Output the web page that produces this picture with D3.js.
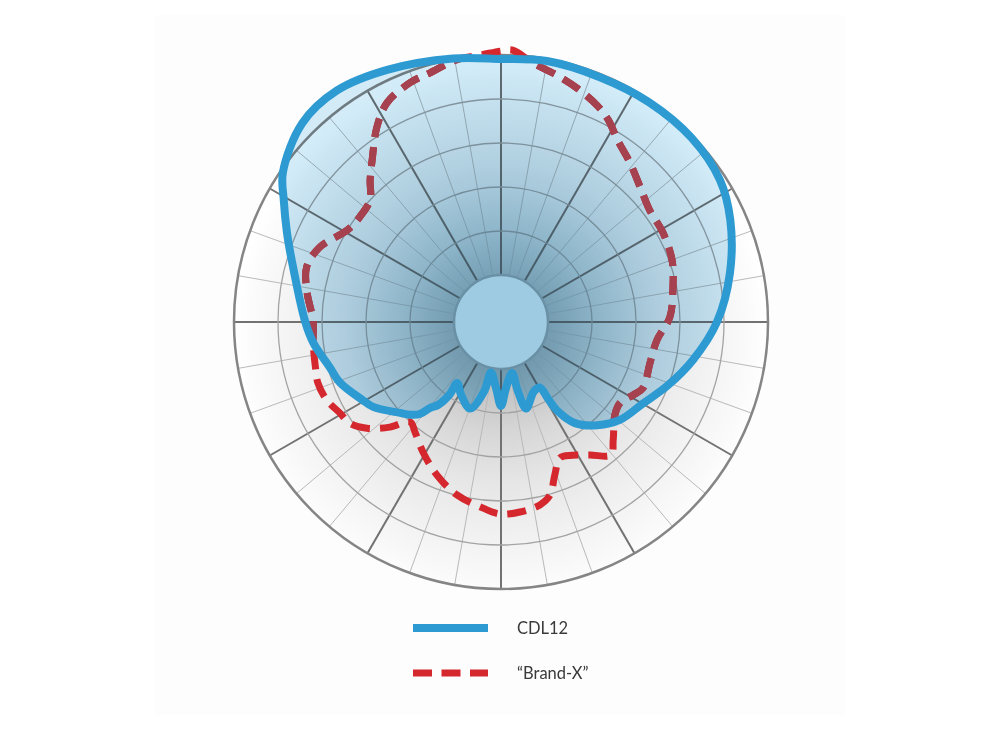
<!DOCTYPE html>
<html><head><meta charset="utf-8">
<script src="https://cdn.jsdelivr.net/npm/d3@7"></script>
<style>html,body{margin:0;padding:0;background:#fff}svg{display:block}</style>
</head><body>
<svg id="chart" width="1000" height="730"></svg>
<script>
// ---- data (angle in degrees clockwise from front/top, level in dB) ----
const seriesNames = ["CDL12", "\u201CBrand-X\u201D"];
const cdlAngles = [0,10,22,34,46,57,66,78,90,101,111,120,129.5,137,143.8,147.5,148.5,149.5,154.8,163.8,166.3,167.8,175.7,180,184.3,191.3,193.7,199.6,208.7,215.8,215.3,217.2,219.5,221.4,224.4,228,236.4,240.5,249.3,255.3,263.6,270,284.8,292.6,299.4,304.4,315,324.7,335.7,349.7];
const cdlLevels = [-0.45,-0.23,-0.34,-0.23,-0.23,-0.68,-1.82,-3.75,-5.8,-8.07,-10.1,-11.76,-12.84,-14.3,-16.1,-18.3,-20.1,-21.7,-21.6,-20.1,-22.2,-24.4,-22.8,-20.8,-22.8,-24.5,-22.2,-19.9,-20.9,-21.8,-20.3,-18.5,-17.7,-16.4,-15.6,-14.9,-12.9,-12.3,-10.8,-10.2,-8.9,-8.1,-5.9,-4.0,-2.0,-0.3,1.6,1.9,1.1,0.1];
const brandAngles = [0,2.5,7,12.8,18,23.9,27.9,32.7,39,45.8,53,61,70,78.5,88.3,96.6,105.4,114.9,118.9,124.2,129.2,136.5,140.4,146.2,151.9,156.5,160.6,164.2,168,174.3,180.3,185.5,194.3,202.7,210.8,217.8,222.3,226.6,231.6,236.2,240.5,245.9,251.6,256.4,263.6,270.6,278.5,285.8,292.5,300.9,306.7,313,317.3,321.5,327.5,332.5,339.2,344,350.5,356];
const brandLevels = [0.45,0.57,-0.68,-1.59,-2.39,-3.41,-4.32,-5.8,-7.05,-8.3,-9.2,-9.32,-9.66,-10.4,-11.14,-12.5,-12.78,-12.55,-13.18,-13.98,-13.64,-11.82,-10.73,-12.16,-13.18,-13.52,-11.93,-9.89,-9.09,-8.64,-8.52,-9.09,-10.06,-11.48,-13.07,-14.43,-15.0,-12.95,-10.91,-9.66,-9.32,-8.64,-8.41,-8.64,-8.86,-8.98,-8.07,-7.39,-8.07,-10.0,-10.34,-10.0,-8.41,-6.82,-4.09,-2.27,-1.25,-0.91,-0.11,0.11];
const ringLevels = [-25,-20,-15,-10,-5,0];
const spokeAngles = d3.range(0, 360, 10);

// ---- layout ----
const cx = 501, cy = 322;
const svg = d3.select("#chart");
const r = d3.scaleLinear().domain([-25, 0]).range([47, 267]);
const rad = d => d * Math.PI / 180;
const rMin = r(ringLevels[0]), rMax = r(ringLevels[ringLevels.length - 1]);

svg.append("rect").attr("x", 155).attr("y", 15).attr("width", 690).attr("height", 700).attr("fill", "#fdfdfd");

const defs = svg.append("defs");
const bgGrad = defs.append("radialGradient").attr("id", "bgGrad")
  .attr("gradientUnits", "userSpaceOnUse").attr("cx", 0).attr("cy", 14).attr("r", rMax);
[[0, "#b0b0b0"], [0.18, "#c0c0c0"], [0.37, "#d7d7d7"], [0.55, "#e6e6e6"], [0.75, "#f1f1f1"], [0.92, "#fafafa"], [1, "#ffffff"]]
  .forEach(([o, c]) => bgGrad.append("stop").attr("offset", o).attr("stop-color", c));
const fillGrad = defs.append("radialGradient").attr("id", "fillGrad")
  .attr("gradientUnits", "userSpaceOnUse").attr("cx", 0).attr("cy", 0).attr("r", 285);
[[0, "#8ec8e7"], [0.25, "#a0d2ec"], [0.55, "#bfe1f3"], [1, "#d7eef9"]]
  .forEach(([o, c]) => fillGrad.append("stop").attr("offset", o).attr("stop-color", c));

const line = d3.lineRadial()
  .angle(d => rad(d[0])).radius(d => r(d[1]))
  .curve(d3.curveCatmullRomClosed.alpha(0.5));
const cdl = d3.zip(cdlAngles, cdlLevels);
const brand = d3.zip(brandAngles, brandLevels);

defs.append("clipPath").attr("id", "cdlClip").append("path").attr("d", line(cdl));

const g = svg.append("g").attr("transform", `translate(${cx},${cy})`);

// disk background
g.append("circle").attr("r", rMax).attr("fill", "url(#bgGrad)");

// spokes
g.append("g").selectAll("line").data(spokeAngles).join("line")
  .attr("x1", a => d3.pointRadial(rad(a), rMin)[0])
  .attr("y1", a => d3.pointRadial(rad(a), rMin)[1])
  .attr("x2", a => d3.pointRadial(rad(a), rMax)[0])
  .attr("y2", a => d3.pointRadial(rad(a), rMax)[1])
  .attr("stroke", a => a % 30 === 0 ? "#727272" : "#b9b9b9")
  .attr("stroke-width", a => a % 30 === 0 ? 2 : 1);

// rings
g.append("g").selectAll("circle").data(ringLevels.slice(1)).join("circle")
  .attr("r", d => r(d)).attr("fill", "none")
  .attr("stroke", (d, i, n) => i === n.length - 1 ? "#858585" : "#a3a3a3")
  .attr("stroke-width", (d, i, n) => i === n.length - 1 ? 2.5 : 1.3);

// Brand-X dashed (under the fill)
g.append("path").attr("d", line(brand)).attr("fill", "none")
  .attr("stroke", "#d4282e").attr("stroke-width", 7).attr("stroke-dasharray", "19 10");

// CDL12 fill (multiplied over grid)
g.append("path").attr("d", line(cdl)).attr("fill", "url(#fillGrad)")
  .style("mix-blend-mode", "multiply");

// Brand-X as seen through the CDL12 fill (muted)
g.append("path").attr("d", line(brand)).attr("fill", "none")
  .attr("clip-path", "url(#cdlClip)")
  .attr("stroke", "#a6414f").attr("stroke-width", 7).attr("stroke-dasharray", "19 10");

// inner circle
g.append("circle").attr("r", rMin).attr("fill", "#9ecbe1")
  .attr("stroke", "#6a90a5").attr("stroke-width", 2.5);

// CDL12 outline
g.append("path").attr("d", line(cdl)).attr("fill", "none")
  .attr("stroke", "#2d9ad2").attr("stroke-width", 8).attr("stroke-linejoin", "round");

// legend
const legend = svg.append("g");
const ly = [628, 673];
legend.append("line").attr("x1", 413).attr("x2", 488).attr("y1", ly[0]).attr("y2", ly[0])
  .attr("stroke", "#2d9ad2").attr("stroke-width", 8);
legend.append("line").attr("x1", 413).attr("x2", 488).attr("y1", ly[1]).attr("y2", ly[1])
  .attr("stroke", "#d4282e").attr("stroke-width", 7).attr("stroke-dasharray", "19 9.5");
legend.selectAll("text").data(seriesNames).join("text")
  .attr("x", 517).attr("y", (d, i) => ly[i] + 6)
  .attr("font-family", "Lato, 'Open Sans', sans-serif").attr("font-size", 16.5)
  .attr("fill", "#3a3a3a").text(d => d);
</script>
</body></html>
